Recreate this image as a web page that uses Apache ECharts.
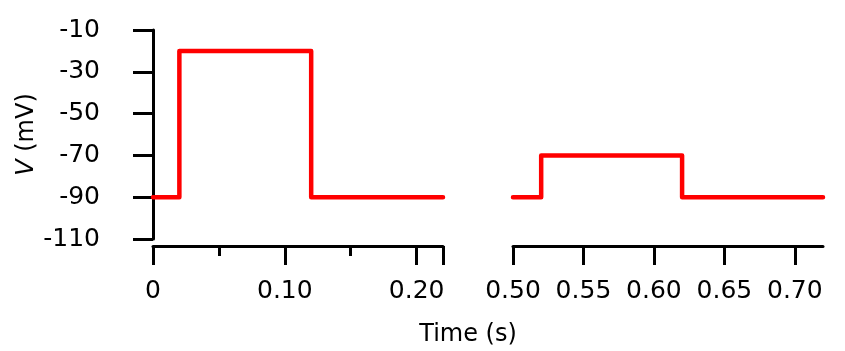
<!DOCTYPE html>
<html>
<head>
<meta charset="utf-8">
<script src="https://cdn.jsdelivr.net/npm/echarts@6/dist/echarts.min.js"></script>
<style>
  html, body { margin: 0; padding: 0; background: #fff; }
  #chart { width: 845px; height: 351px; }
</style>
</head>
<body>
<div id="chart"></div>
<script>
// 电压阶跃数据（两段时间窗）
var timesA = [0, 0.02, 0.02, 0.12, 0.12, 0.22];
var voltsA = [-90, -90, -20, -20, -90, -90];
var timesB = [0.50, 0.52, 0.52, 0.62, 0.62, 0.72];
var voltsB = [-90, -90, -70, -70, -90, -90];
var yTicks = [-110, -90, -70, -50, -30, -10];

function pairs(xs, ys) {
    return xs.map(function (x, i) { return [x, ys[i]]; });
}

var FONT = 'DejaVu Sans';
var axisLabelStyle = { fontFamily: FONT, fontSize: 25, color: '#000' };
var lineBlack = { color: '#000', width: 3 };
var redLine = { color: '#ff0000', width: 4.5, cap: 'round', join: 'round' };

var chart = echarts.init(document.getElementById('chart'));
chart.setOption({
    animation: false,
    grid: [
        { left: 153, width: 290, top: 30, height: 209 },
        { left: 513, width: 310, top: 30, height: 209 }
    ],
    xAxis: [
        {
            gridIndex: 0, type: 'value', min: 0, max: 0.22, interval: 0.1,
            offset: 7,
            axisLine: { lineStyle: lineBlack },
            axisTick: { length: 19, lineStyle: lineBlack },
            minorTick: { show: true, splitNumber: 2, length: 10, lineStyle: lineBlack },
            splitLine: { show: false },
            axisLabel: Object.assign({
                margin: 33,
                formatter: function (v) { return v === 0 ? '0' : v.toFixed(2); }
            }, axisLabelStyle)
        },
        {
            gridIndex: 1, type: 'value', min: 0.5, max: 0.72, interval: 0.05,
            offset: 7,
            axisLine: { lineStyle: lineBlack },
            axisTick: { length: 19, lineStyle: lineBlack },
            splitLine: { show: false },
            axisLabel: Object.assign({
                margin: 33,
                showMaxLabel: false,
                formatter: function (v) { return v.toFixed(2); }
            }, axisLabelStyle)
        }
    ],
    yAxis: [
        {
            gridIndex: 0, type: 'value',
            min: yTicks[0], max: yTicks[yTicks.length - 1], interval: 20,
            offset: 20,
            name: '{i|V} (mV)',
            nameLocation: 'middle',
            nameRotate: 90,
            nameGap: 94,
            nameTextStyle: {
                fontFamily: FONT, fontSize: 24, color: '#000',
                rich: { i: { fontFamily: FONT, fontSize: 24, fontStyle: 'italic', color: '#000' } }
            },
            axisLine: { show: true, lineStyle: lineBlack },
            axisTick: { show: true, length: 20, lineStyle: lineBlack },
            splitLine: { show: false },
            axisLabel: Object.assign({ margin: 33 }, axisLabelStyle)
        },
        {
            gridIndex: 1, type: 'value',
            min: yTicks[0], max: yTicks[yTicks.length - 1],
            show: false, splitLine: { show: false }
        }
    ],
    graphic: [{
        type: 'text', x: 468, y: 335,
        style: {
            text: 'Time (s)', fontFamily: FONT, fontSize: 24, fill: '#000',
            align: 'center', verticalAlign: 'middle'
        }
    }],
    series: [
        {
            type: 'line', xAxisIndex: 0, yAxisIndex: 0,
            data: pairs(timesA, voltsA), showSymbol: false,
            lineStyle: redLine
        },
        {
            type: 'line', xAxisIndex: 1, yAxisIndex: 1,
            data: pairs(timesB, voltsB), showSymbol: false,
            lineStyle: redLine
        }
    ]
});
window.addEventListener('resize', function () { chart.resize(); });
</script>
</body>
</html>
